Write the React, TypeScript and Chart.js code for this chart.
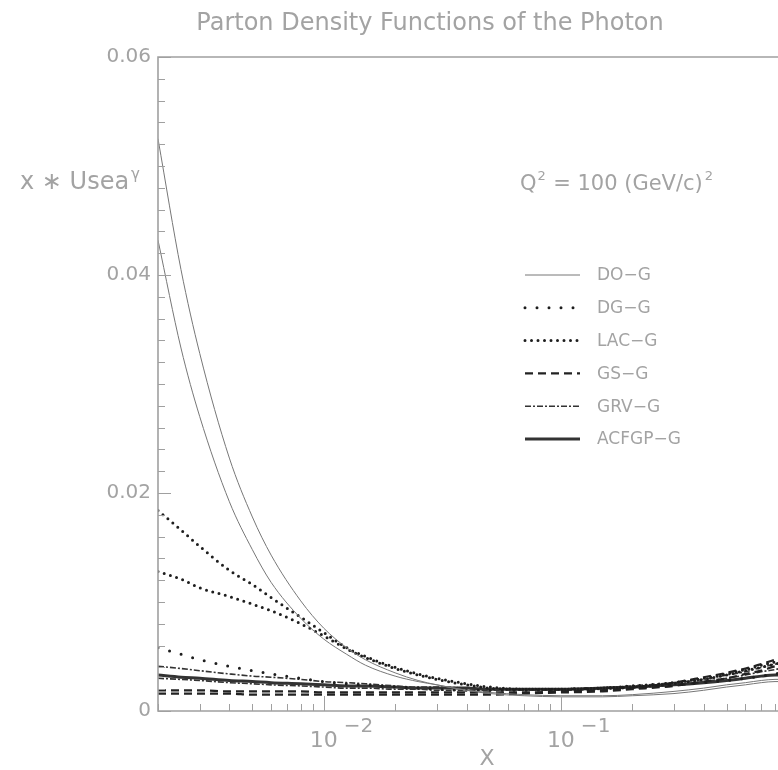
import React, { useEffect, useRef } from "react";
import { Chart, registerables } from "chart.js";
Chart.register(...registerables);

// ---------- data ----------
const xGrid = [0.002, 0.0025, 0.003, 0.004, 0.005, 0.006, 0.008, 0.01, 0.0125, 0.015, 0.02, 0.025, 0.03, 0.04, 0.05, 0.07, 0.1, 0.15, 0.2, 0.3, 0.4, 0.5, 0.6, 0.7, 0.8, 0.85, 0.9];

const doG1 = [0.0525, 0.0405, 0.0328, 0.0232, 0.0178, 0.0143, 0.0101, 0.0076, 0.0058, 0.0047, 0.0035, 0.0028, 0.0024, 0.0019, 0.0017, 0.0015, 0.0014, 0.0014, 0.0015, 0.0018, 0.0021, 0.0024, 0.0026, 0.0028, 0.0029, 0.0029, 0.0027];
const doG2 = [0.0432, 0.0333, 0.027, 0.0192, 0.0148, 0.0118, 0.0085, 0.0066, 0.0052, 0.0042, 0.0032, 0.0027, 0.0024, 0.0019, 0.0016, 0.0014, 0.0013, 0.0013, 0.0014, 0.0016, 0.0019, 0.0022, 0.0024, 0.0026, 0.0027, 0.0027, 0.0025];
const dgG = [0.0058, 0.0052, 0.0047, 0.0041, 0.0037, 0.0034, 0.003, 0.0027, 0.0025, 0.0024, 0.0022, 0.0021, 0.002, 0.0019, 0.0019, 0.0019, 0.002, 0.0021, 0.0022, 0.0024, 0.0026, 0.0028, 0.003, 0.0032, 0.0034, 0.0035, 0.0035];
const lacG1 = [0.0184, 0.0166, 0.0151, 0.0129, 0.0116, 0.0104, 0.0086, 0.0072, 0.0058, 0.005, 0.004, 0.0034, 0.003, 0.0025, 0.0022, 0.002, 0.002, 0.0021, 0.0023, 0.0026, 0.003, 0.0034, 0.0038, 0.0042, 0.0045, 0.0046, 0.0045];
const lacG2 = [0.0128, 0.0121, 0.0113, 0.0105, 0.0098, 0.0092, 0.008, 0.0069, 0.0057, 0.0049, 0.0039, 0.0033, 0.0029, 0.0024, 0.0021, 0.002, 0.002, 0.0021, 0.0022, 0.0025, 0.0029, 0.0033, 0.0037, 0.004, 0.0043, 0.0044, 0.0043];
const gsG1 = [0.0019, 0.0019, 0.0019, 0.0018, 0.0018, 0.0018, 0.0018, 0.0017, 0.0017, 0.0017, 0.0017, 0.0017, 0.0017, 0.0017, 0.0017, 0.0017, 0.0018, 0.0019, 0.0021, 0.0026, 0.0031, 0.0035, 0.0039, 0.0043, 0.0047, 0.0048, 0.0047];
const gsG2 = [0.0016, 0.0016, 0.0016, 0.0016, 0.0015, 0.0015, 0.0015, 0.0015, 0.0015, 0.0015, 0.0015, 0.0015, 0.0015, 0.0015, 0.0015, 0.0016, 0.0017, 0.0018, 0.002, 0.0023, 0.0027, 0.003, 0.0034, 0.0037, 0.0041, 0.0042, 0.0041];
const grvG1 = [0.0041, 0.0039, 0.0037, 0.0034, 0.0032, 0.0031, 0.0029, 0.0027, 0.0026, 0.0025, 0.0023, 0.0022, 0.0022, 0.0021, 0.002, 0.002, 0.002, 0.0021, 0.0023, 0.0026, 0.0029, 0.0033, 0.0036, 0.004, 0.0043, 0.0044, 0.0043];
const grvG2 = [0.003, 0.0029, 0.0028, 0.0026, 0.0025, 0.0024, 0.0023, 0.0022, 0.0021, 0.0021, 0.002, 0.002, 0.0019, 0.0019, 0.0019, 0.0019, 0.0019, 0.002, 0.0021, 0.0024, 0.0027, 0.003, 0.0033, 0.0036, 0.0038, 0.0039, 0.0038];
const acfgpG = [0.0033, 0.0031, 0.003, 0.0028, 0.0027, 0.0026, 0.0025, 0.0024, 0.0023, 0.0023, 0.0022, 0.0021, 0.0021, 0.0021, 0.002, 0.002, 0.002, 0.0021, 0.0022, 0.0024, 0.0026, 0.0028, 0.003, 0.0032, 0.0033, 0.0033, 0.0032];

const legendLabels = ["DO\u2212G", "DG\u2212G", "LAC\u2212G", "GS\u2212G", "GRV\u2212G", "ACFGP\u2212G"];
const yTickValues = [0, 0.02, 0.04, 0.06];
const yTickLabels = ["0", "0.02", "0.04", "0.06"];
const xTickValues = [0.01, 0.1];
const xTickBases = ["10", "10"];
const xTickExponents = ["\u22122", "\u22121"];
const titleText = "Parton Density Functions of the Photon";
const yTitleText = "x \u2217 Usea";
const yTitleSup = "\u03b3";
const xTitleText = "X";
const q2Parts = ["Q", "2", " = 100 (GeV/c)", "2"];

const FONT = "'DejaVu Sans ExtraLight', 'DejaVu Sans', 'Liberation Sans', sans-serif";
const TEXT = "#a3a3a3";
const FRAME = "#a0a0a0";

type Style = {
  color: string;
  width: number;
  dash: number[];
  cap: CanvasLineCap;
};

const styles: Style[] = [
  { color: "#777777", width: 1, dash: [], cap: "butt" },
  { color: "#1e1e1e", width: 3, dash: [0, 12], cap: "round" },
  { color: "#1e1e1e", width: 3, dash: [0, 6.5], cap: "round" },
  { color: "#222222", width: 2.2, dash: [8, 5], cap: "butt" },
  { color: "#333333", width: 1.6, dash: [6, 2, 2, 2], cap: "butt" },
  { color: "#333333", width: 3, dash: [], cap: "butt" },
];

const seriesList: { data: number[]; group: number }[] = [
  { data: doG1, group: 0 },
  { data: doG2, group: 0 },
  { data: dgG, group: 1 },
  { data: lacG1, group: 2 },
  { data: lacG2, group: 2 },
  { data: gsG1, group: 3 },
  { data: gsG2, group: 3 },
  { data: grvG1, group: 4 },
  { data: grvG2, group: 4 },
  { data: acfgpG, group: 5 },
];

// canvas sits at page offset (8, 8)
const decorPlugin = {
  id: "decor",
  afterDatasetsDraw(chart: any) {
    const ctx: CanvasRenderingContext2D = chart.ctx;
    const { left, right, top, bottom } = chart.chartArea;
    const xs = chart.scales.x;
    const ys = chart.scales.y;
    ctx.save();
    // frame
    ctx.strokeStyle = FRAME;
    ctx.lineWidth = 1.6;
    ctx.setLineDash([]);
    ctx.beginPath();
    ctx.moveTo(right, top);
    ctx.lineTo(left, top);
    ctx.lineTo(left, bottom);
    ctx.lineTo(right, bottom);
    ctx.stroke();
    // y ticks (inward)
    ctx.lineWidth = 1;
    for (let i = 0; i <= 30; i++) {
      const v = i * 0.002;
      const py = Math.round(ys.getPixelForValue(v)) + 0.5;
      const len = i % 10 === 0 ? 13 : 7;
      ctx.beginPath();
      ctx.moveTo(left, py);
      ctx.lineTo(left + len, py);
      ctx.stroke();
    }
    // x ticks (inward)
    for (let d = -3; d <= 0; d++) {
      for (let k = 1; k <= 9; k++) {
        const v = k * Math.pow(10, d);
        if (v < 0.002 - 1e-9 || v > 1 + 1e-9) continue;
        const px = Math.round(xs.getPixelForValue(v)) + 0.5;
        const len = k === 1 ? 15 : 7;
        ctx.beginPath();
        ctx.moveTo(px, bottom);
        ctx.lineTo(px, bottom - len);
        ctx.stroke();
      }
    }
    // y labels
    ctx.fillStyle = TEXT;
    ctx.font = `20px ${FONT}`;
    ctx.textAlign = "right";
    ctx.textBaseline = "middle";
    yTickValues.forEach((v, i) => {
      ctx.fillText(yTickLabels[i], left - 7, ys.getPixelForValue(v));
    });
    // x labels with superscript
    ctx.textBaseline = "alphabetic";
    xTickValues.forEach((v, i) => {
      const px = xs.getPixelForValue(v);
      ctx.font = `22px ${FONT}`;
      ctx.textAlign = "center";
      const w = ctx.measureText(xTickBases[i]).width;
      ctx.fillText(xTickBases[i], px, bottom + 36);
      ctx.font = `20px ${FONT}`;
      ctx.textAlign = "left";
      ctx.fillText(xTickExponents[i], px + w / 2 + 6, bottom + 21);
    });
    // x title
    ctx.font = `22px ${FONT}`;
    ctx.textAlign = "center";
    ctx.fillText(xTitleText, 479, bottom + 54);
    // title
    ctx.font = `24px ${FONT}`;
    ctx.fillText(titleText, 422, 22);
    // y title
    ctx.textAlign = "left";
    ctx.font = `24px ${FONT}`;
    ctx.fillText(yTitleText, 12, 181);
    const wt = ctx.measureText(yTitleText).width;
    ctx.font = `15px ${FONT}`;
    ctx.fillText(yTitleSup, 12 + wt + 2, 171);
    // Q2 annotation
    const qx = 512, qy = 182;
    ctx.font = `21px ${FONT}`;
    ctx.fillText(q2Parts[0], qx, qy);
    let cx = qx + ctx.measureText(q2Parts[0]).width;
    ctx.font = `13px ${FONT}`;
    ctx.fillText(q2Parts[1], cx + 1, qy - 10);
    cx += 10;
    ctx.font = `21px ${FONT}`;
    ctx.fillText(q2Parts[2], cx, qy);
    cx += ctx.measureText(q2Parts[2]).width;
    ctx.font = `13px ${FONT}`;
    ctx.fillText(q2Parts[3], cx + 2, qy - 10);
    // legend
    legendLabels.forEach((lab, i) => {
      const st = styles[i];
      const ly = 267 + i * 32.8;
      ctx.strokeStyle = st.color;
      ctx.lineWidth = st.width;
      ctx.lineCap = st.cap;
      ctx.setLineDash(st.dash);
      ctx.beginPath();
      ctx.moveTo(517, ly);
      ctx.lineTo(572, ly);
      ctx.stroke();
      ctx.setLineDash([]);
      ctx.lineCap = "butt";
      ctx.fillStyle = TEXT;
      ctx.font = `17px ${FONT}`;
      ctx.textAlign = "left";
      ctx.textBaseline = "middle";
      ctx.fillText(lab, 589, ly + 1);
    });
    ctx.restore();
  },
};

export default function App() {
  const ref = useRef<HTMLCanvasElement | null>(null);
  useEffect(() => {
    if (!ref.current) return;
    const datasets = seriesList.map((s, idx) => {
      const st = styles[s.group];
      return {
        label: legendLabels[s.group] + "#" + idx,
        data: xGrid.map((x, i) => ({ x, y: s.data[i] })),
        borderColor: st.color,
        borderWidth: st.width,
        borderDash: st.dash,
        borderCapStyle: st.cap,
        pointRadius: 0,
        fill: false,
        cubicInterpolationMode: "monotone" as const,
      };
    });
    const chart = new Chart(ref.current, {
      type: "line",
      data: { datasets },
      options: {
        responsive: false,
        animation: false,
        devicePixelRatio: 1,
        layout: { padding: { top: 49, right: 50, left: 0, bottom: 0 } },
        plugins: { legend: { display: false }, tooltip: { enabled: false }, title: { display: false } },
        scales: {
          x: {
            type: "logarithmic",
            min: 0.002,
            max: 1,
            ticks: { display: false },
            grid: { display: false },
            border: { display: false },
            afterFit: (s: any) => { s.height = 59; },
          },
          y: {
            type: "linear",
            min: 0,
            max: 0.06,
            ticks: { display: false },
            grid: { display: false },
            border: { display: false },
            afterFit: (s: any) => { s.width = 150; },
          },
        },
      },
      plugins: [decorPlugin],
    });
    return () => chart.destroy();
  }, []);
  return (
    <div style={{ position: "absolute", left: 0, top: 0, width: 778, height: 770, overflow: "hidden", background: "#fff" }}>
      <canvas ref={ref} width={840} height={762} style={{ position: "absolute", left: 8, top: 8, width: 840, height: 762, display: "block" }} />
    </div>
  );
}
